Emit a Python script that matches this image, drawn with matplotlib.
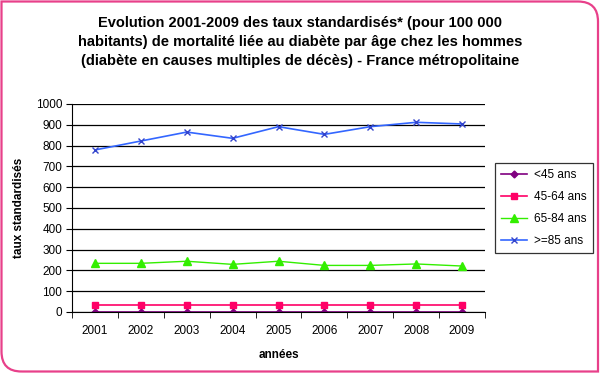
import matplotlib.pyplot as plt
from matplotlib.path import Path
from matplotlib.patches import PathPatch

years = ["2001", "2002", "2003", "2004", "2005", "2006", "2007", "2008", "2009"]
moins45 = [2, 2, 2, 2, 2, 2, 2, 2, 2]
de45a64 = [32, 32, 32, 32, 32, 32, 32, 32, 32]
de65a84 = [234, 234, 244, 229, 244, 224, 224, 231, 221]
plus85 = [779, 822, 865, 835, 891, 854, 891, 912, 904]

plt.rcParams['font.family'] = ['Liberation Sans', 'DejaVu Sans']

fig = plt.figure(figsize=(6, 3.74), dpi=100)

# pink frame, rounded top-right and bottom-left corners
W, H, r = 600, 374, 20
x0, y0, x1, y1 = 1.5, 2.5, 598, 372.5
verts = [(x0 + r, y0), (x1, y0), (x1, y1 - r), (x1, y1), (x1 - r, y1),
         (x0, y1), (x0, y0 + r), (x0, y0), (x0 + r, y0)]
codes = [Path.MOVETO, Path.LINETO, Path.LINETO, Path.CURVE3, Path.CURVE3,
         Path.LINETO, Path.LINETO, Path.CURVE3, Path.CURVE3]
verts = [(vx / W, vy / H) for vx, vy in verts]
fig.patches.append(PathPatch(Path(verts, codes), transform=fig.transFigure,
                             fill=False, edgecolor='#e8408a', linewidth=1.6))

fig.text(0.5, 0.958, "Evolution 2001-2009 des taux standardisés* (pour 100 000\n"
         "habitants) de mortalité liée au diabète par âge chez les hommes\n"
         "(diabète en causes multiples de décès) - France métropolitaine",
         ha='center', va='top', fontsize=10.5, fontweight='bold', linespacing=1.45)

ax = fig.add_axes([72 / 600, 1 - 312 / 374, 413 / 600, 208 / 374])
x = range(1, 10)
ax.plot(x, moins45, color='#800080', marker='D', markersize=3.5, lw=1.2, label='<45 ans')
ax.plot(x, de45a64, color='#ff0066', marker='s', markersize=5, lw=1.2, label='45-64 ans')
ax.plot(x, de65a84, color='#33ee00', marker='^', markersize=5.5, lw=1.0, label='65-84 ans')
ax.plot(x, plus85, color='#3366ff', marker='x', markersize=4, lw=1.2,
        markeredgecolor='#3344cc', label='>=85 ans')

ax.set_xlim(0.5, 9.5)
ax.set_ylim(0, 1000)
ax.set_yticks(range(0, 1001, 100))
ax.set_xticks(x)
ax.set_xticklabels(years)
ax.set_xticks([i + 0.5 for i in range(0, 10)], minor=True)
ax.tick_params(axis='x', which='major', length=0, labelsize=8.5, pad=9)
ax.tick_params(axis='x', which='minor', length=4, direction='out')
ax.tick_params(axis='y', length=4, labelsize=8.5, pad=3)
ax.grid(axis='y', color='black', lw=0.9)
ax.set_axisbelow(True)
for s in ['top', 'right']:
    ax.spines[s].set_visible(False)
ax.set_xlabel("années", fontsize=8.5, fontweight='bold', labelpad=9)
ax.set_ylabel("taux standardisés", fontsize=8.5, fontweight='bold', labelpad=8)

leg = ax.legend(loc='center left', bbox_to_anchor=(1.01, 0.5), fontsize=8.5,
                frameon=True, fancybox=False, edgecolor='black',
                handlelength=2.2, handletextpad=0.6, borderpad=0.5, labelspacing=0.85)
leg.get_frame().set_linewidth(0.9)

fig.savefig("out.png", dpi=100)
